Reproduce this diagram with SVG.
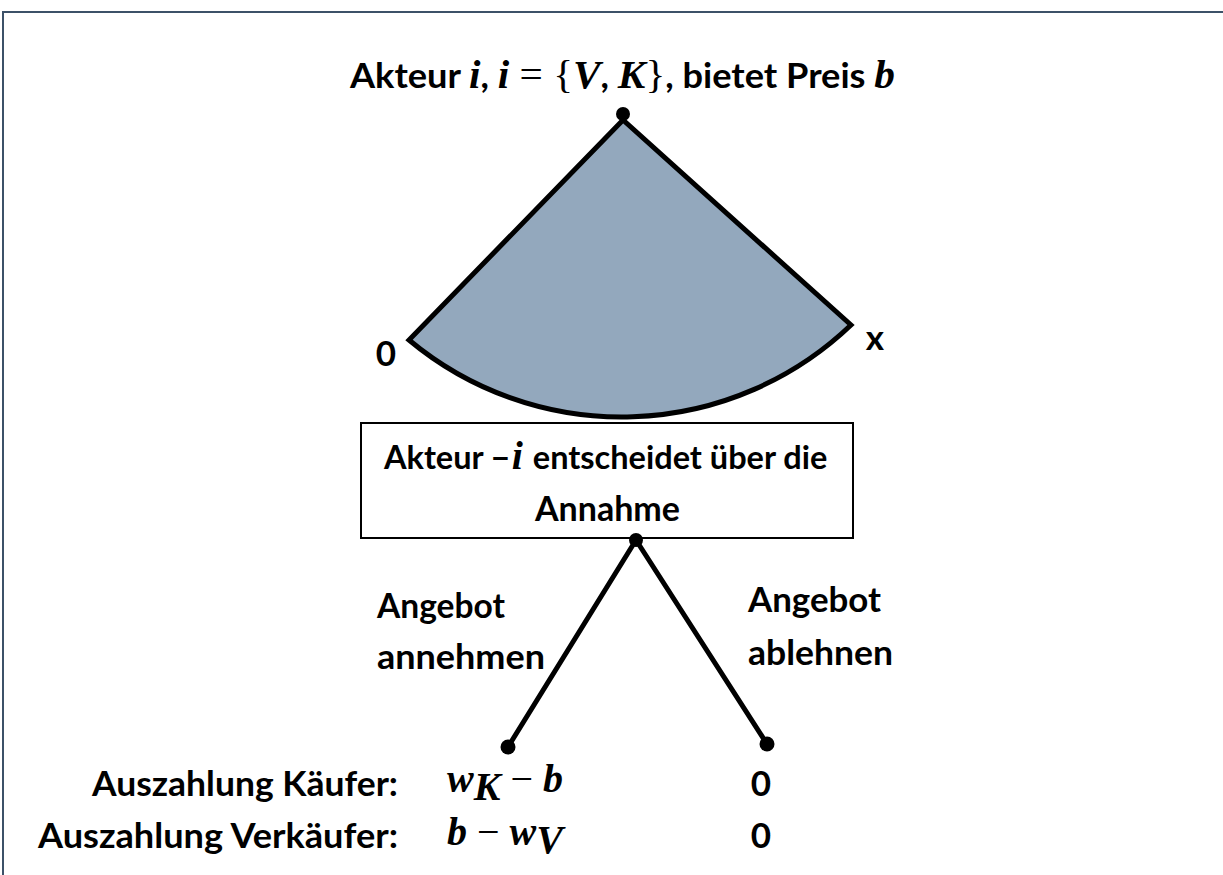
<svg xmlns="http://www.w3.org/2000/svg" width="1223" height="875" viewBox="0 0 1223 875">
<style>
.t{font-family:Lato,"Open Sans",sans-serif;font-weight:700;font-size:35px;fill:#000}
.m{font-family:"Liberation Serif",serif;font-style:italic;font-weight:700;font-size:40px}
.mr{font-family:"Liberation Serif",serif;font-style:normal;font-weight:400;font-size:40px}
.ln{stroke:#000;stroke-width:5;fill:none;stroke-linecap:round}
.dot{fill:#000}
</style>
<rect x="0" y="0" width="1223" height="875" fill="#fff"/>
<rect id="frame" x="3" y="12" width="1240" height="900" fill="none" stroke="#3c5168" stroke-width="2"/>
<g id="fan">
<path d="M623,120 L409,340 A332,332 0 0 0 851,325 Z" fill="#93a8bd" stroke="#000" stroke-width="5" stroke-linejoin="miter"/>
</g>
<g id="top-node">
<circle class="dot" cx="623" cy="114" r="7"/>
<text class="t" x="350" y="88" textLength="545" lengthAdjust="spacingAndGlyphs">Akteur <tspan class="m">i</tspan>, <tspan class="m">i</tspan><tspan class="mr"> = {</tspan><tspan class="m">V</tspan>, <tspan class="m">K</tspan><tspan class="mr">}</tspan>, bietet Preis <tspan class="m">b</tspan></text>
</g>
<g id="labels-range">
<text class="t" x="386" y="366" text-anchor="middle">0</text>
<text class="t" x="875" y="350" text-anchor="middle">x</text>
</g>
<g id="decision-node">
<rect x="361" y="423" width="492" height="115" fill="#fff" stroke="#000" stroke-width="2"/>
<text class="t" x="384" y="469" style="font-size:32.5px">Akteur −<tspan class="m" dx="2">i</tspan><tspan dx="2"> entscheidet über die</tspan></text>
<text class="t" x="535" y="521" textLength="145" lengthAdjust="spacingAndGlyphs">Annahme</text>
</g>
<g id="connectors">
<line class="ln" x1="636" y1="540" x2="508" y2="747"/>
<line class="ln" x1="636" y1="540" x2="767" y2="744"/>
<circle class="dot" cx="636" cy="540" r="7"/>
</g>
<g id="edge-labels">
<text class="t" x="377" y="618" textLength="128" lengthAdjust="spacingAndGlyphs">Angebot</text>
<text class="t" x="377" y="669" textLength="168" lengthAdjust="spacingAndGlyphs">annehmen</text>
<text class="t" x="748" y="612" textLength="133" lengthAdjust="spacingAndGlyphs">Angebot</text>
<text class="t" x="748" y="665" textLength="145" lengthAdjust="spacingAndGlyphs">ablehnen</text>
</g>
<g id="leaf-accept">
<circle class="dot" cx="508" cy="747" r="7.5"/>
<text x="447" y="792"><tspan class="m">w</tspan><tspan class="m" font-size="26" dy="8">K</tspan><tspan class="mr" dy="-8"> − </tspan><tspan class="m">b</tspan></text>
<text x="447" y="845"><tspan class="m">b</tspan><tspan class="mr"> − </tspan><tspan class="m">w</tspan><tspan class="m" font-size="26" dy="8">V</tspan></text>
</g>
<g id="leaf-reject">
<circle class="dot" cx="767" cy="744" r="7.5"/>
<text class="t" x="761" y="796" text-anchor="middle">0</text>
<text class="t" x="761" y="848" text-anchor="middle">0</text>
</g>
<g id="payoff-labels">
<text class="t" x="92" y="796" textLength="306" lengthAdjust="spacingAndGlyphs">Auszahlung Käufer:</text>
<text class="t" x="38" y="848" textLength="360" lengthAdjust="spacingAndGlyphs">Auszahlung Verkäufer:</text>
</g>
</svg>
